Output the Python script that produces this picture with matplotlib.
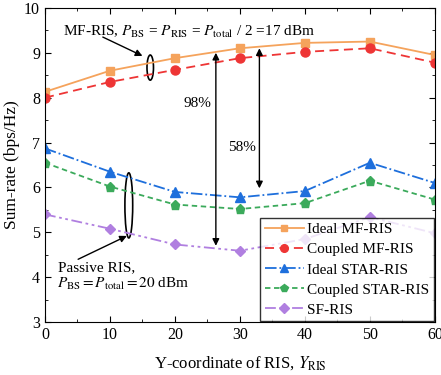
import matplotlib
matplotlib.use("Agg")
import matplotlib.pyplot as plt
from matplotlib.patches import Ellipse
from matplotlib.ticker import MultipleLocator

plt.rcParams['font.family'] = ['Liberation Serif', 'DejaVu Serif']
plt.rcParams['mathtext.fontset'] = 'stix'
plt.rcParams['font.size'] = 11

y_ris = [0, 10, 20, 30, 40, 50, 60]
ideal_mf = [8.13, 8.60, 8.88, 9.10, 9.22, 9.25, 8.95]
coupled_mf = [8.00, 8.35, 8.62, 8.88, 9.02, 9.10, 8.78]
ideal_star = [6.87, 6.35, 5.90, 5.78, 5.92, 6.55, 6.10]
coupled_star = [6.55, 6.02, 5.62, 5.52, 5.65, 6.15, 5.73]
sf_ris = [5.40, 5.08, 4.73, 4.59, 4.85, 5.34, 4.98]

fig = plt.figure(figsize=(4.41, 3.75), dpi=100)
ax = fig.add_axes([0.102, 0.141, 0.884, 0.838])

ax.plot(y_ris, ideal_mf, '-', color='#F5A35C', marker='s', ms=5.5, lw=1.3, label='Ideal MF-RIS')
ax.plot(y_ris, coupled_mf, '--', color='#EE3535', marker='o', ms=6.5, lw=1.3, dashes=(5, 3), label='Coupled MF-RIS')
ax.plot(y_ris, ideal_star, '-.', color='#1E6FDC', marker='^', ms=6.5, lw=1.3, label='Ideal STAR-RIS')
ax.plot(y_ris, coupled_star, '--', color='#3BAA5B', marker='p', ms=6.5, lw=1.3, dashes=(3, 2), label='Coupled STAR-RIS')
ax.plot(y_ris, sf_ris, color='#B07FE0', marker='D', ms=5.5, lw=1.3, dashes=(6, 2, 1.5, 2, 1.5, 2), label='SF-RIS')

ax.set_xlim(0, 60)
ax.set_ylim(3, 10)
ax.xaxis.set_major_locator(MultipleLocator(10))
ax.xaxis.set_minor_locator(MultipleLocator(5))
ax.yaxis.set_major_locator(MultipleLocator(1))
ax.yaxis.set_minor_locator(MultipleLocator(0.5))
ax.tick_params(which='both', direction='in', top=True, right=True, labelsize=11.5)
ax.tick_params(which='major', length=4)
ax.tick_params(which='minor', length=2)
ax.set_xlabel(r'Y-coordinate of RIS, $Y_{\rm RIS}$', fontsize=12, labelpad=8)
ax.set_ylabel('Sum-rate (bps/Hz)', fontsize=12.5, labelpad=3)

leg = ax.legend(loc='lower right', fontsize=11, fancybox=False, edgecolor='black',
                handlelength=2.6, handletextpad=0.2, borderpad=0.3, labelspacing=0.42,
                borderaxespad=0.05, markerscale=0.85)
leg.get_frame().set_linewidth(1.0)

# ellipses marking groups
ax.add_patch(Ellipse((16.2, 8.67), 1.0, 0.56, fill=False, lw=1.2, color='black'))
ax.add_patch(Ellipse((12.9, 5.6), 1.2, 1.45, fill=False, lw=1.2, color='black'))

arr = dict(arrowstyle='-|>', color='black', lw=1.0, mutation_scale=10, shrinkA=0, shrinkB=0)
ax.annotate('', xy=(15.0, 8.93), xytext=(8.9, 9.35), arrowprops=arr)
ax.text(2.8, 9.46, r'MF-RIS, $P_{\rm BS}$ = $P_{\rm RIS}$ = $P_{\rm total}$ / 2 =17 dBm',
        fontsize=11, va='center')

ax.annotate('', xy=(12.6, 4.92), xytext=(5.1, 4.40), arrowprops=arr)
ax.text(2.0, 4.22, 'Passive RIS,', fontsize=11, va='center')
ax.text(1.8, 3.84, r'$P_{\rm BS} = P_{\rm total} = 20$ dBm', fontsize=11, va='center')

# gain arrows
darr = dict(arrowstyle='<|-|>', color='black', lw=1.0, mutation_scale=10, shrinkA=0, shrinkB=0)
ax.annotate('', xy=(26.3, 9.0), xytext=(26.3, 4.7), arrowprops=darr)
ax.text(25.6, 7.88, '98%', fontsize=11, ha='right', va='center')
ax.annotate('', xy=(33.0, 9.1), xytext=(33.0, 5.98), arrowprops=darr)
ax.text(32.4, 6.9, '58%', fontsize=11, ha='right', va='center')

fig.savefig('out.png', dpi=100)
